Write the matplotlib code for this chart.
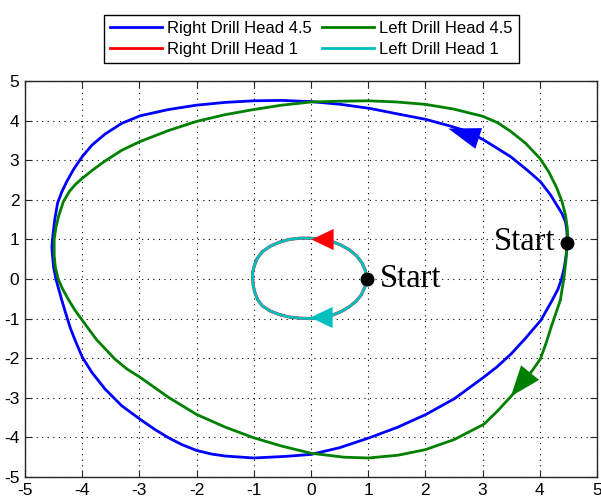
import numpy as np
import matplotlib.pyplot as plt
from matplotlib.markers import MarkerStyle
from matplotlib.path import Path
from matplotlib.transforms import Affine2D

# right drill head, radius 4.5 (counterclockwise from the start point)
right45_x = [4.48, 4.48, 4.47, 4.45, 4.39, 4.30, 4.19, 4.01, 3.78, 3.49, 3.20,
             3.01, 2.73, 2.44, 2.01, 1.51, 1.02, 0.52, 0.00,
             -0.51, -1.00, -1.50, -2.00, -2.49, -2.99, -3.31, -3.60, -3.83,
             -4.00, -4.15, -4.27, -4.36, -4.43, -4.48, -4.52,
             -4.53, -4.52, -4.50, -4.46, -4.41, -4.36, -4.31, -4.26, -4.20, -4.12,
             -4.00, -3.83, -3.60, -3.31, -2.99, -2.73, -2.49, -2.26, -2.00,
             -1.74, -1.50, -1.00, -0.45, 0.00,
             0.50, 1.02, 1.52, 2.01, 2.51, 3.02, 3.26, 3.50, 3.76, 4.02, 4.22,
             4.32, 4.38, 4.43, 4.46, 4.48]
right45_y = [0.90, 1.02, 1.27, 1.44, 1.65, 1.86, 2.12, 2.46, 2.75, 3.09, 3.35,
             3.52, 3.73, 3.86, 4.03, 4.17, 4.31, 4.41, 4.48,
             4.51, 4.50, 4.46, 4.39, 4.28, 4.12, 3.93, 3.66, 3.38,
             3.09, 2.77, 2.46, 2.19, 1.92, 1.50, 1.00,
             0.80, 0.60, 0.30, 0.00, -0.26, -0.52, -0.76, -1.00, -1.27, -1.56,
             -1.97, -2.36, -2.78, -3.20, -3.54, -3.80, -4.01, -4.18, -4.33,
             -4.42, -4.47, -4.52, -4.48, -4.43,
             -4.26, -4.01, -3.74, -3.42, -3.02, -2.48, -2.21, -1.89, -1.48, -1.04, -0.53,
             -0.25, 0.00, 0.30, 0.60, 0.90]

# left drill head, radius 4.5 (clockwise from the start point)
left45_x = [4.48, 4.46, 4.42, 4.39, 4.36, 4.28, 4.20, 4.11, 4.01, 3.87, 3.71,
            3.48, 3.25, 3.02, 2.51, 2.00, 1.52, 1.00, 0.58, 0.00,
            -0.51, -1.00, -1.50, -2.00, -2.49, -2.99, -3.22, -3.43, -3.75, -4.00,
            -4.13, -4.24, -4.34, -4.42, -4.47, -4.49, -4.49, -4.46, -4.41,
            -4.33, -4.22, -4.11, -4.00, -3.81, -3.60, -3.31, -2.99, -2.49, -2.00,
            -1.50, -1.00, -0.51, 0.00,
            0.50, 1.00, 1.50, 2.00, 2.50, 3.00, 3.26, 3.49, 3.75, 4.00, 4.16,
            4.30, 4.39, 4.45, 4.48, 4.49, 4.48]
left45_y = [0.90, 0.50, 0.00, -0.26, -0.53, -0.87, -1.21, -1.62, -2.02, -2.31, -2.62,
            -2.99, -3.35, -3.67, -4.05, -4.31, -4.45, -4.52, -4.50, -4.40,
            -4.22, -4.01, -3.74, -3.42, -2.99, -2.48, -2.27, -2.02, -1.53, -1.04,
            -0.78, -0.52, -0.26, 0.00, 0.30, 0.60, 1.00, 1.30, 1.60,
            1.95, 2.22, 2.40, 2.54, 2.76, 2.98, 3.25, 3.47, 3.75, 3.98,
            4.15, 4.28, 4.39, 4.47,
            4.49, 4.50, 4.47, 4.41, 4.29, 4.11, 3.95, 3.73, 3.43, 3.05, 2.70,
            2.29, 1.95, 1.61, 1.30, 1.02, 0.90]

# drill heads of radius 1 (right one counterclockwise, left one clockwise)
right1_x = [0.97, 0.95, 0.89, 0.80, 0.67, 0.52, 0.38, 0.19, 0.00, -0.20, -0.38,
            -0.55, -0.71, -0.85, -0.94, -0.99, -1.02, -1.02, -1.01, -0.98, -0.93,
            -0.85, -0.71, -0.55, -0.38, -0.19, 0.00, 0.19, 0.38, 0.53, 0.67,
            0.79, 0.88, 0.94, 0.97]
right1_y = [0.00, 0.22, 0.41, 0.58, 0.74, 0.86, 0.94, 1.00, 1.03, 1.03, 1.00,
            0.93, 0.83, 0.69, 0.52, 0.34, 0.17, 0.00, -0.17, -0.35, -0.53,
            -0.68, -0.81, -0.90, -0.96, -0.99, -1.00, -0.97, -0.91, -0.82, -0.70,
            -0.56, -0.40, -0.21, 0.00]
left1_x = right1_x[::-1]
left1_y = right1_y[::-1]

start_x = [4.48, 0.98]
start_y = [0.90, 0.00]

labels = ['Right Drill Head 4.5', 'Right Drill Head 1',
          'Left Drill Head 4.5', 'Left Drill Head 1']
ticks = [-5, -4, -3, -2, -1, 0, 1, 2, 3, 4, 5]

# direction arrows: x, y, screen angle of the tip (deg)
arrow_blue = (2.66, 3.69, 162)
arrow_green = (3.65, -2.66, 231)
arrow_red = (0.19, 1.01, 180)
arrow_cyan = (0.18, -0.97, 180)


def head(angle, ratio):
    # triangle pointing along +x rotated to the given angle
    verts = [(1, 0), (-1, ratio), (-1, -ratio), (1, 0)]
    return MarkerStyle(Path(verts, closed=True),
                       transform=Affine2D().rotate_deg(angle))


plt.rcParams['font.family'] = ['Liberation Sans', 'DejaVu Sans']
plt.rcParams['axes.unicode_minus'] = False

fig = plt.figure(figsize=(6.01, 5.0), dpi=100)
ax = fig.add_axes([0.0416, 0.046, 0.9517, 0.792])

l1, = ax.plot(right45_x, right45_y, color='#0000ff', lw=2)
l3, = ax.plot(left45_x, left45_y, color='#008000', lw=2)
l2, = ax.plot(right1_x, right1_y, color='#ff0000', lw=2.2)
l4, = ax.plot(left1_x, left1_y, color='#00bfbf', lw=2)

for (x, y, a), c, s, r in [(arrow_blue, '#0000ff', 23, 0.68),
                           (arrow_green, '#008000', 22, 0.76),
                           (arrow_red, '#ff0000', 16, 0.95),
                           (arrow_cyan, '#00bfbf', 16, 0.95)]:
    ax.plot([x], [y], marker=head(a, r), ms=s, color=c, mew=0, ls='none')

ax.plot(start_x, start_y, 'o', color='black', ms=9)
ax.text(4.27, 0.95, 'Start', ha='right', va='center',
        fontsize=23.5, family='Liberation Serif')
ax.text(1.2, 0.0, 'Start', ha='left', va='center',
        fontsize=23.5, family='Liberation Serif')

ax.set_xlim(-5, 5)
ax.set_ylim(-5, 5)
ax.set_xticks(ticks)
ax.set_yticks(ticks)
ax.grid(True, color='black', lw=0.8, ls=(0, (1, 4)))
ax.tick_params(direction='in', top=True, right=True, length=5,
               labelsize=12.5, color='#262626', pad=4)
for sp in ax.spines.values():
    sp.set_color('#262626')
    sp.set_linewidth(1)

leg = fig.legend([l1, l2, l3, l4], labels, ncol=2, loc='upper center',
                 bbox_to_anchor=(0.518, 0.986), fontsize=12,
                 handlelength=3.15, handletextpad=0.3, columnspacing=0.6,
                 labelspacing=0.36, borderpad=0.36, fancybox=False,
                 framealpha=1, edgecolor='black')
leg.get_frame().set_linewidth(1)
for line in leg.get_lines():
    line.set_linewidth(2)

fig.savefig('out.png', dpi=100)
